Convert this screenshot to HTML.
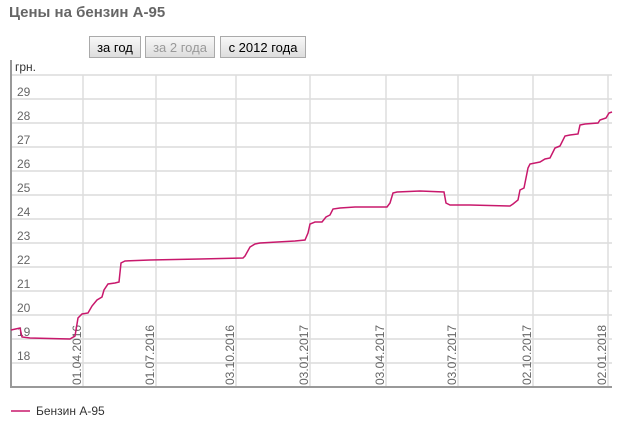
<!DOCTYPE html>
<html><head><meta charset="utf-8"><style>
body{margin:0;background:#fff;width:618px;height:423px;overflow:hidden;font-family:"Liberation Sans",sans-serif;}
.t{position:absolute;left:9px;top:4px;font-size:15px;font-weight:bold;color:#666;}
.b{position:absolute;top:36px;height:22px;border:1px solid #aaa;background:linear-gradient(#f8f8f8,#ddd);font-size:13px;line-height:22px;text-align:center;color:#000;box-sizing:border-box;}
</style></head><body>
<div class="t">Цены на бензин А-95</div>
<div class="b" style="left:89px;width:52px">за год</div>
<div class="b" style="left:145px;width:70px;color:#999">за 2 года</div>
<div class="b" style="left:220px;width:86px">с 2012 года</div>
<svg width="618" height="423" style="position:absolute;left:0;top:0" font-family="Liberation Sans, sans-serif">
<g stroke="#e4e4e4" stroke-width="2">
<line x1="11" x2="612" y1="75" y2="75"/><line x1="11" x2="612" y1="99" y2="99"/><line x1="11" x2="612" y1="123" y2="123"/><line x1="11" x2="612" y1="147" y2="147"/><line x1="11" x2="612" y1="171" y2="171"/><line x1="11" x2="612" y1="195" y2="195"/><line x1="11" x2="612" y1="219" y2="219"/><line x1="11" x2="612" y1="243" y2="243"/><line x1="11" x2="612" y1="267" y2="267"/><line x1="11" x2="612" y1="291" y2="291"/><line x1="11" x2="612" y1="315" y2="315"/><line x1="11" x2="612" y1="339" y2="339"/><line x1="11" x2="612" y1="363" y2="363"/>
</g>
<g stroke="#ddd" stroke-width="1.5">
<line x1="83" x2="83" y1="75" y2="387"/><line x1="156" x2="156" y1="75" y2="387"/><line x1="236" x2="236" y1="75" y2="387"/><line x1="310" x2="310" y1="75" y2="387"/><line x1="386" x2="386" y1="75" y2="387"/><line x1="458" x2="458" y1="75" y2="387"/><line x1="533" x2="533" y1="75" y2="387"/><line x1="608" x2="608" y1="75" y2="387"/>
</g>
<line x1="11" x2="11" y1="60" y2="388" stroke="#999" stroke-width="2"/>
<line x1="10" x2="612" y1="387" y2="387" stroke="#999" stroke-width="2"/>
<g font-size="12" fill="#666">
<text x="15" y="71" fill="#333">грн.</text>
<text x="17" y="96">29</text><text x="17" y="120">28</text><text x="17" y="144">27</text><text x="17" y="168">26</text><text x="17" y="192">25</text><text x="17" y="216">24</text><text x="17" y="240">23</text><text x="17" y="264">22</text><text x="17" y="288">21</text><text x="17" y="312">20</text><text x="17" y="336">19</text><text x="17" y="360">18</text>
</g>
<g font-size="12" fill="#666">
<text transform="translate(81,385) rotate(-90)">01.04.2016</text>
<text transform="translate(154,385) rotate(-90)">01.07.2016</text>
<text transform="translate(234,385) rotate(-90)">03.10.2016</text>
<text transform="translate(308,385) rotate(-90)">03.01.2017</text>
<text transform="translate(384,385) rotate(-90)">03.04.2017</text>
<text transform="translate(456,385) rotate(-90)">03.07.2017</text>
<text transform="translate(531,385) rotate(-90)">02.10.2017</text>
<text transform="translate(606,385) rotate(-90)">02.01.2018</text>
</g>
<polyline fill="none" stroke="#c8186c" stroke-width="1.5" points="11,330 20,328 22,337 30,338 70,339 75,336 78,318 82,314 88,313 92,306 97,300 102,297 104,290 108,284 115,283 119,282 121,263 125,261 150,260 200,259 243,258 245,256 250,247 255,244 260,243 295,241 305,240 308,233 310,224 315,222 322,222 326,217 330,215 333,209 340,208 355,207 387,207 390,203 393,193 397,192 420,191 444,192 446,203 450,205 470,205 510,206 513,204 518,200 520,190 524,188 528,168 530,164 540,162 545,159 550,158 555,148 560,146 565,136 570,135 578,134 580,125 585,124 598,123 600,120 606,118 609,113 612,112"/>
<line x1="11" x2="30" y1="411" y2="411" stroke="#c8186c" stroke-width="1.5"/>
<text x="36" y="415" font-size="12" fill="#333">Бензин А-95</text>
</svg>
</body></html>
